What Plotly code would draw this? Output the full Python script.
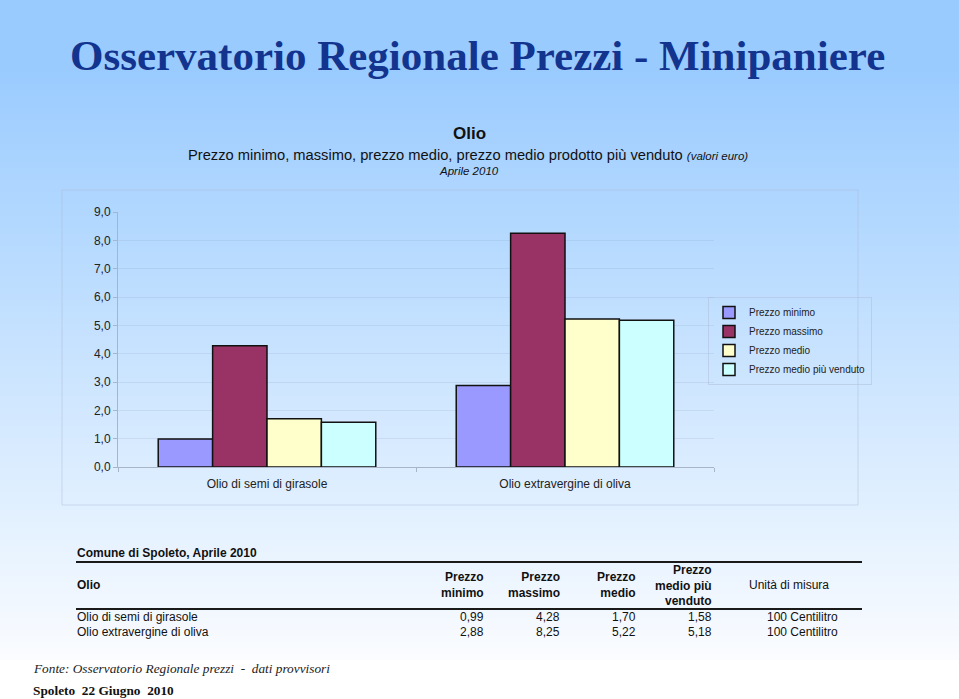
import plotly.graph_objects as go

# ---------------- data ----------------
categories = ["Olio di semi di girasole", "Olio extravergine di oliva"]
series_names = ["Prezzo minimo", "Prezzo massimo", "Prezzo medio", "Prezzo medio più venduto"]
prezzo_minimo = [0.99, 2.88]
prezzo_massimo = [4.28, 8.25]
prezzo_medio = [1.70, 5.22]
prezzo_piu_venduto = [1.58, 5.18]
unita = ["100 Centilitro", "100 Centilitro"]
y_ticks = [0, 1, 2, 3, 4, 5, 6, 7, 8, 9]
header_cols = ["Prezzo<br>minimo", "Prezzo<br>massimo", "Prezzo<br>medio", "Prezzo<br>medio più<br>venduto"]

series_values = [prezzo_minimo, prezzo_massimo, prezzo_medio, prezzo_piu_venduto]
series_colors = ["#9999FF", "#993366", "#FFFFCC", "#CCFFFF"]

# ---------------- geometry helpers ----------------
FW, FH = 959, 699
L, R, T, B = 118, 714, 212, 467
W, H = R - L, B - T


def px(x):
    return (x - L) / W


def py(y):
    return (B - y) / H


fig = go.Figure()
for name, vals, col in zip(series_names, series_values, series_colors):
    fig.add_trace(go.Bar(
        x=categories, y=vals, name=name,
        marker=dict(color=col, line=dict(color="#111111", width=1.5)),
    ))

shapes = []
# gradient background
top_c = (153, 203, 255)
bot_c = (250, 252, 255)
y0g, y1g = 60, 655
step = 6
y = 0
while y < FH:
    if y < y0g:
        c = top_c
    elif y >= y1g:
        c = (255, 255, 255)
    else:
        t = (y - y0g) / (y1g - y0g)
        c = tuple(round(top_c[i] + (bot_c[i] - top_c[i]) * t) for i in range(3))
    shapes.append(dict(type="rect", xref="paper", yref="paper", layer="below",
                       x0=px(0), x1=px(FW), y0=py(min(y + step, FH)), y1=py(y),
                       line=dict(width=0), fillcolor="rgb(%d,%d,%d)" % c))
    y += step

# chart area frame
shapes.append(dict(type="rect", xref="paper", yref="paper", layer="below",
                   x0=px(62), x1=px(858), y0=py(505), y1=py(190),
                   line=dict(color="rgba(170,185,210,0.45)", width=1), fillcolor="rgba(0,0,0,0)"))
# table lines
for yy in (562, 609):
    shapes.append(dict(type="line", xref="paper", yref="paper",
                       x0=px(76), x1=px(862), y0=py(yy), y1=py(yy),
                       line=dict(color="#1a1a1a", width=2)))

ann = []
ann.append(dict(text="<b>Osservatorio Regionale Prezzi - Minipaniere</b>",
                x=px(477), y=py(55), xanchor="center", yanchor="middle",
                font=dict(family="Liberation Serif", size=43, color="#12348F")))
ann.append(dict(text="<b>Olio</b>", x=px(469), y=py(133), xanchor="center", yanchor="middle",
                font=dict(family="Liberation Sans", size=17, color="#111111")))
ann.append(dict(text="Prezzo minimo, massimo, prezzo medio, prezzo medio prodotto più venduto "
                     "<i><span style='font-size:11.5px'>(valori euro)</span></i>",
                x=px(468), y=py(155), xanchor="center", yanchor="middle",
                font=dict(family="Liberation Sans", size=14.7, color="#111111")))
ann.append(dict(text="<i>Aprile 2010</i>", x=px(469), y=py(171), xanchor="center", yanchor="middle",
                font=dict(family="Liberation Sans", size=11.5, color="#111111")))

tf = dict(family="Liberation Sans", size=12, color="#111111")
ann.append(dict(text="<b>Comune di Spoleto, Aprile 2010</b>", x=px(75), y=py(553),
                xanchor="left", yanchor="middle", font=tf))
ann.append(dict(text="<b>Olio</b>", x=px(75), y=py(585), xanchor="left", yanchor="middle", font=tf))
col_right = [486, 562, 638, 714]
for h, xr in zip(header_cols, col_right):
    ann.append(dict(text="<b>" + h + "</b>", x=px(xr), y=py(585), xanchor="right", yanchor="middle",
                    align="right", font=tf))
ann.append(dict(text="Unità di misura", x=px(789), y=py(585), xanchor="center", yanchor="middle", font=tf))
row_y = [617, 632]
for i, cat in enumerate(categories):
    ann.append(dict(text=cat, x=px(75), y=py(row_y[i]), xanchor="left", yanchor="middle", font=tf))
    for vals, xr in zip(series_values, col_right):
        ann.append(dict(text=("%.2f" % vals[i]).replace(".", ","), x=px(xr), y=py(row_y[i]),
                        xanchor="right", yanchor="middle", font=tf))
    ann.append(dict(text=unita[i], x=px(840), y=py(row_y[i]), xanchor="right", yanchor="middle", font=tf))

ann.append(dict(text="<i>Fonte: Osservatorio Regionale prezzi  -  dati provvisori</i>",
                x=px(31), y=py(668), xanchor="left", yanchor="middle",
                font=dict(family="Liberation Serif", size=13.3, color="#222222")))
ann.append(dict(text="<b>Spoleto  22 Giugno  2010</b>",
                x=px(31), y=py(690), xanchor="left", yanchor="middle",
                font=dict(family="Liberation Serif", size=13.3, color="#111111")))
for a in ann:
    a.update(xref="paper", yref="paper", showarrow=False)

fig.update_layout(
    width=FW, height=FH,
    margin=dict(l=L, r=FW - R, t=T, b=FH - B, autoexpand=False),
    paper_bgcolor="white", plot_bgcolor="rgba(0,0,0,0)",
    barmode="group", bargap=0.27, bargroupgap=0,
    separators=",.",
    shapes=shapes, annotations=ann,
    font=dict(family="Liberation Sans", color="#111111"),
    legend=dict(x=px(708), y=py(297), xanchor="left", yanchor="top",
                bgcolor="rgba(0,0,0,0)", bordercolor="rgba(170,185,210,0.45)", borderwidth=1,
                font=dict(family="Liberation Sans", size=10, color="#222222"),
                itemclick=False, itemdoubleclick=False),
    showlegend=True,
)
fig.update_yaxes(range=[0, 9], tickvals=y_ticks, tickformat=".1f",
                 showline=True, linecolor="#A8B4C8", linewidth=1,
                 ticks="outside", ticklen=4, tickcolor="#A8B4C8",
                 showgrid=True, gridcolor="rgba(140,160,195,0.2)", gridwidth=1,
                 zeroline=False, tickfont=dict(size=12, color="#222222"))
fig.update_xaxes(showline=True, linecolor="#A8B4C8", linewidth=1,
                 ticks="outside", ticklen=4, tickcolor="#A8B4C8", tickson="boundaries",
                 ticklabelstandoff=6,
                 showgrid=False, tickfont=dict(size=12, color="#222222"))

fig.write_html("out.html")
